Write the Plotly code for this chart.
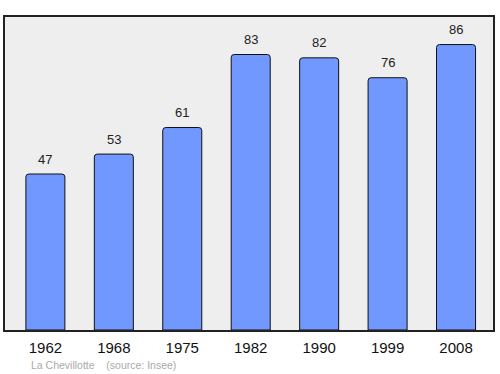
import plotly.graph_objects as go

years = ["1962", "1968", "1975", "1982", "1990", "1999", "2008"]
population = [47, 53, 61, 83, 82, 76, 86]
footer = "La Chevillotte    (source: Insee)"

fig = go.Figure()
fig.add_trace(go.Bar(
    x=years, y=population, width=0.57,
    marker=dict(color="#7098ff", line=dict(color="#111111", width=1), cornerradius=3),
    hoverinfo="skip",
))
for yr, v in zip(years, population):
    fig.add_annotation(x=years.index(yr), y=v, text=str(v), showarrow=False, yshift=15,
                       yanchor="middle", font=dict(size=13, color="#222222"))
fig.add_annotation(xref="paper", yref="paper", x=0.05, y=-0.113, xanchor="left", yanchor="middle",
                   text=footer, showarrow=False, font=dict(size=10.5, color="#aaaaaa"))
fig.update_layout(
    width=500, height=374, margin=dict(l=5, r=7, t=17, b=44),
    paper_bgcolor="white", plot_bgcolor="#eeeeee",
    font=dict(family="Liberation Sans, Arial, sans-serif", color="#111111"),
    showlegend=False,
    xaxis=dict(type="category", range=[-0.59, 6.54], showline=True, mirror=True, linecolor="#222222", linewidth=1.5,
               ticks="", tickfont=dict(size=15, color="#111111"), ticklabelstandoff=3, fixedrange=True),
    yaxis=dict(range=[0, 94.3], showline=True, mirror=True, linecolor="#222222", linewidth=1.5,
               showgrid=False, zeroline=False, showticklabels=False, ticks="", fixedrange=True),
)
fig.write_html("out.html")
